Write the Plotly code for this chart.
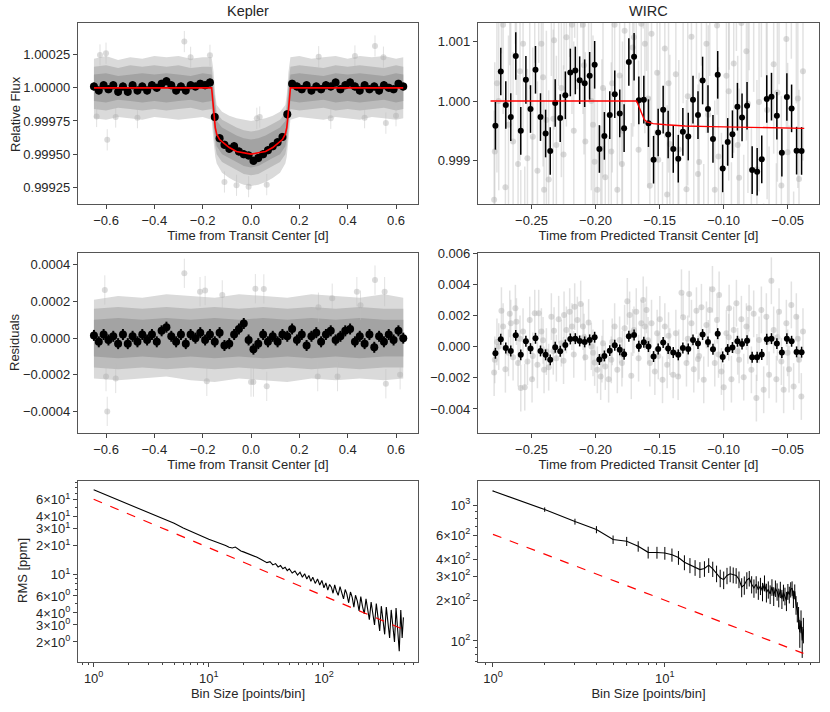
import numpy as np
import plotly.graph_objects as go
from plotly.subplots import make_subplots

#%% Kepler light curve (binned points, model, grey cloud envelope)
kep_t = [-0.65, -0.63, -0.61, -0.59, -0.57, -0.55, -0.53, -0.51, -0.49, -0.47, -0.45, -0.43, -0.41,
         -0.39, -0.37, -0.35, -0.33, -0.31, -0.29, -0.27, -0.25, -0.23, -0.21, -0.19, -0.17,
         -0.15, -0.13, -0.11, -0.09, -0.07, -0.05, -0.03, -0.01, 0.01, 0.03, 0.05, 0.07, 0.09,
         0.11, 0.13, 0.15, 0.17, 0.19, 0.21, 0.23, 0.25, 0.27, 0.29, 0.31, 0.33, 0.35, 0.37,
         0.39, 0.41, 0.43, 0.45, 0.47, 0.49, 0.51, 0.53, 0.55, 0.57, 0.59, 0.61, 0.63]
kep_flux = [1.00001, 0.99998, 1.00002, 0.99999, 1.00002, 0.99997, 1.00001, 0.99997, 1.00002, 0.99998,
            1.00001, 0.99998, 1.00002, 1.00000, 1.00003, 1.00005, 1.00002, 0.99998, 1.00001, 0.99998,
            1.00002, 1.00001, 1.00003, 1.00002, 1.00004,
            0.99978, 0.99962, 0.99957, 0.99954, 0.99956, 0.99952, 0.99950, 0.99949, 0.99945, 0.99947,
            0.99950, 0.99953, 0.99956, 0.99959, 0.99963, 0.99980,
            1.00003, 1.00001, 0.99999, 1.00002, 0.99998, 1.00001, 0.99999, 1.00002, 1.00001, 1.00004,
            0.99999, 1.00002, 1.00004, 1.00001, 0.99998, 1.00002, 0.99999, 1.00001, 0.99998, 1.00002,
            1.00000, 0.99999, 1.00003, 1.00001]
kep_resid = [0.000015, -0.00002, 0.00002, -0.00001, 0.00001, -0.00003, 0.00002, -0.00003, 0.00001, -0.00002,
             0.00002, -0.00001, 0.00002, -0.00002, 0.00004, 0.00006, 0.00001, -0.00002, 0.00002, -0.00003,
             0.00002, 0.0, 0.00003, -0.00001, 0.00002,
             -0.00002, 0.00003, -0.00004, -0.00003, 0.00002, 0.00005, 0.00008, -0.00001, -0.00006, -0.00003,
             0.00002, -0.00002, 0.00001, -0.00002, 0.00002, 0.00001,
             0.00005, -0.00001, 0.00002, -0.00004, 0.00001, 0.00003, -0.00002, 0.00002, 0.00004, -0.00001,
             0.00001, 0.00004, 0.00005, -0.00002, 0.00001, -0.00003, 0.00002, -0.00005, 0.00001, -0.00002,
             0.00002, -0.00001, 0.00004, 0.0]

kep_model_t = [-0.65, -0.163, -0.158, -0.153, -0.148, -0.142, -0.13, -0.11, -0.09, -0.06, -0.03, 0.0,
               0.03, 0.06, 0.09, 0.11, 0.13, 0.142, 0.148, 0.153, 0.158, 0.163, 0.63]
kep_model_f = [1.0, 1.0, 0.99990, 0.99979, 0.99970, 0.99965, 0.99961, 0.99958, 0.99955, 0.99952, 0.99951,
               0.99950, 0.99951, 0.99952, 0.99955, 0.99958, 0.99961, 0.99965, 0.99970, 0.99979, 0.99990,
               1.0, 1.0]

# envelope of the unbinned cloud: outer fringe, middle and dense core
kep_band_t = [-0.65, -0.60, -0.55, -0.50, -0.45, -0.40, -0.35, -0.30, -0.25, -0.20,
              -0.163, -0.155, -0.148, -0.142, -0.12, -0.09, -0.06, -0.03, 0.0, 0.03, 0.06, 0.09, 0.12,
              0.142, 0.148, 0.155, 0.163,
              0.20, 0.25, 0.30, 0.35, 0.40, 0.45, 0.50, 0.55, 0.60, 0.63]
kep_outer_hi = [1.00022, 1.00024, 1.00021, 1.00023, 1.00022, 1.00024, 1.00023, 1.00024, 1.00022, 1.00023,
                1.00023, 1.00012, 0.99995, 0.99987, 0.99982, 0.99979, 0.99977, 0.99976, 0.99975, 0.99976,
                0.99977, 0.99979, 0.99982, 0.99987, 0.99995, 1.00012, 1.00023,
                1.00024, 1.00022, 1.00023, 1.00024, 1.00022, 1.00024, 1.00023, 1.00024, 1.00022, 1.00023]
kep_outer_lo = [0.99977, 0.99976, 0.99978, 0.99977, 0.99976, 0.99978, 0.99977, 0.99976, 0.99977, 0.99978,
                0.99976, 0.99960, 0.99948, 0.99943, 0.99936, 0.99932, 0.99929, 0.99927, 0.99926, 0.99927,
                0.99929, 0.99932, 0.99936, 0.99943, 0.99948, 0.99960, 0.99976,
                0.99978, 0.99977, 0.99976, 0.99978, 0.99977, 0.99976, 0.99978, 0.99977, 0.99976, 0.99977]
kep_mid_hi = [1.00016, 1.00017, 1.00015, 1.00017, 1.00016, 1.00017, 1.00016, 1.00017, 1.00015, 1.00016,
              1.00016, 1.00004, 0.99989, 0.99981, 0.99976, 0.99973, 0.99970, 0.99968, 0.99967, 0.99968,
              0.99970, 0.99973, 0.99976, 0.99981, 0.99989, 1.00004, 1.00016,
              1.00017, 1.00016, 1.00015, 1.00017, 1.00016, 1.00017, 1.00016, 1.00015, 1.00017, 1.00016]
kep_mid_lo = [0.99984, 0.99983, 0.99985, 0.99984, 0.99983, 0.99984, 0.99983, 0.99984, 0.99985, 0.99983,
              0.99984, 0.99968, 0.99956, 0.99950, 0.99944, 0.99941, 0.99938, 0.99935, 0.99934, 0.99935,
              0.99938, 0.99941, 0.99944, 0.99950, 0.99956, 0.99968, 0.99984,
              0.99983, 0.99984, 0.99985, 0.99983, 0.99984, 0.99983, 0.99984, 0.99985, 0.99983, 0.99984]
kep_inner_hi = [1.00010, 1.00011, 1.00009, 1.00010, 1.00011, 1.00010, 1.00011, 1.00010, 1.00009, 1.00011,
                1.00010, 0.99998, 0.99983, 0.99975, 0.99970, 0.99967, 0.99964, 0.99962, 0.99961, 0.99962,
                0.99964, 0.99967, 0.99970, 0.99975, 0.99983, 0.99998, 1.00010,
                1.00011, 1.00010, 1.00009, 1.00011, 1.00010, 1.00011, 1.00010, 1.00009, 1.00011, 1.00010]
kep_inner_lo = [0.99990, 0.99989, 0.99991, 0.99990, 0.99989, 0.99990, 0.99989, 0.99990, 0.99991, 0.99989,
                0.99990, 0.99974, 0.99962, 0.99956, 0.99950, 0.99947, 0.99944, 0.99941, 0.99940, 0.99941,
                0.99944, 0.99947, 0.99950, 0.99956, 0.99962, 0.99974, 0.99990,
                0.99989, 0.99990, 0.99991, 0.99989, 0.99990, 0.99989, 0.99990, 0.99991, 0.99989, 0.99990]
kep_out_t = [-0.639, -0.625, -0.600, -0.595, -0.560, -0.470, -0.276, -0.250, -0.170, -0.110, -0.060,
             0.024, 0.036, 0.065, -0.010, 0.280, 0.330, 0.430, 0.470, 0.513, 0.548, 0.558, 0.600]
kep_out_f = [0.999784, 1.000248, 1.000261, 0.999608, 0.999780, 0.999775, 1.000349, 1.000230, 1.000245,
             0.999290, 0.999265, 0.999770, 0.999780, 0.999270, 0.999255, 1.000235, 0.999770, 1.000240,
             0.999775, 1.000316, 1.000231, 0.999734, 0.999790]

kep_rband_t = [-0.65, -0.55, -0.45, -0.35, -0.25, -0.15, -0.05, 0.05, 0.15, 0.25, 0.35, 0.45, 0.55, 0.63]
kep_router_hi = [0.00021, 0.00023, 0.00022, 0.00024, 0.00023, 0.00022, 0.00024, 0.00023, 0.00022, 0.00024,
                 0.00023, 0.00022, 0.00024, 0.00022]
kep_router_lo = [-0.00022, -0.00023, -0.00022, -0.00021, -0.00023, -0.00024, -0.00022, -0.00023, -0.00024,
                 -0.00022, -0.00023, -0.00022, -0.00023, -0.00022]
kep_rmid_hi = [0.00016, 0.00017, 0.00016, 0.00017, 0.00016, 0.00017, 0.00016, 0.00017, 0.00016, 0.00017,
               0.00016, 0.00017, 0.00016, 0.00016]
kep_rmid_lo = [-0.00016, -0.00017, -0.00016, -0.00017, -0.00016, -0.00017, -0.00016, -0.00017, -0.00016,
               -0.00017, -0.00016, -0.00017, -0.00016, -0.00016]
kep_rinner_hi = [0.00010, 0.00011, 0.00010, 0.00011, 0.00010, 0.00011, 0.00010, 0.00011, 0.00010, 0.00011,
                 0.00010, 0.00011, 0.00010, 0.00010]
kep_rinner_lo = [-0.00010, -0.00011, -0.00010, -0.00011, -0.00010, -0.00011, -0.00010, -0.00011, -0.00010,
                 -0.00011, -0.00010, -0.00011, -0.00010, -0.00010]
kep_rout_t = [-0.605, -0.600, -0.595, -0.560, -0.276, -0.211, -0.190, -0.183, -0.119, 0.000, 0.010, 0.018,
              0.053, 0.065, 0.276, 0.279, 0.336, 0.358, 0.438, 0.453, 0.513, 0.553, 0.558, 0.617]
kep_rout_r = [0.000263, -0.00021, -0.0004, -0.00022, 0.000354, 0.000254, 0.00026, -0.000236, 0.000236,
              -0.00024, -0.00024, 0.00027, 0.000269, -0.000263, -0.00021, 0.000169, 0.000218, -0.00021,
              0.000254, 0.00018, 0.000317, 0.000254, -0.000249, -0.0002]

#%% WIRC light curve
wirc_t = [-0.2782, -0.2740, -0.2701, -0.2662, -0.2623, -0.2584, -0.2544, -0.2508, -0.2469, -0.2430,
          -0.2390, -0.2354, -0.2315, -0.2276, -0.2236, -0.2197, -0.2158, -0.2124, -0.2085, -0.2046,
          -0.2007, -0.1970, -0.1931, -0.1889, -0.1850, -0.1811, -0.1777, -0.1740, -0.1699, -0.1662,
          -0.1623, -0.1587, -0.1547, -0.1511, -0.1472, -0.1433, -0.1393, -0.1354, -0.1318, -0.1276,
          -0.1239, -0.1200, -0.1164, -0.1122, -0.1083, -0.1046, -0.1007, -0.0968, -0.0931, -0.0892,
          -0.0856, -0.0817, -0.0777, -0.0738, -0.0702, -0.0663, -0.0626, -0.0584, -0.0545, -0.0506,
          -0.0469, -0.0430, -0.0391]
wirc_flux = [0.999583, 1.000496, 0.999932, 0.999730, 1.000755, 0.999499, 1.000355, 0.999865, 1.000524,
             0.999730, 0.999454, 0.999161, 0.999966, 0.999713, 1.000096, 1.000479, 1.000513, 1.000349,
             1.000299, 1.000423, 1.000608, 0.999194, 0.999414, 0.999763, 1.000113, 0.999792, 0.999544,
             1.000654, 1.000744, 1.000011, 1.000023, 0.999628, 0.999014, 0.999470, 0.999854, 0.999437,
             0.999194, 0.999031, 0.999482, 0.999403, 1.000023, 0.999763, 1.000344, 0.999865, 0.999363,
             1.000439, 0.998868, 0.999313, 0.999442, 0.999904, 0.999724, 0.999921, 0.998839, 0.998811,
             0.999020, 1.000034, 1.000073, 0.999752, 0.999132, 1.000068, 0.999876, 0.999166, 0.999161]
wirc_resid = [-0.00043, 0.00047, -0.00009, -0.00028, 0.00072, -0.00053, 0.00034, -0.00013, 0.00053,
              -0.00028, -0.00053, -0.00085, -0.00004, -0.00030, 0.00010, 0.00049, 0.00051, 0.00036,
              0.00030, 0.00043, 0.00060, -0.00083, -0.00060, -0.00026, 0.00009, -0.00021, -0.00049,
              0.00066, 0.00074, 0.00002, 0.00028, 0.00000, -0.00064, -0.00015, 0.00026, -0.00013,
              -0.00038, -0.00053, -0.00009, -0.00015, 0.00043, 0.00019, 0.00077, 0.00030, -0.00017,
              0.00083, -0.00066, -0.00019, -0.00006, 0.00034, 0.00017, 0.00038, -0.00068, -0.00068,
              -0.00051, 0.00047, 0.00051, 0.00019, -0.00038, 0.00051, 0.00034, -0.00034, -0.00036]

wirc_model_t = [-0.282, -0.168, -0.166, -0.164, -0.162, -0.160, -0.155, -0.145, -0.13, -0.11, -0.09,
                -0.07, -0.05, -0.037]
wirc_model_f = [1.0, 1.0, 0.99990, 0.99978, 0.99969, 0.99965, 0.99962, 0.99960, 0.99958, 0.99957,
                0.99956, 0.99955, 0.99954, 0.99954]

# unbinned WIRC points (residuals)
wirc_grey_t = [-0.2792, -0.2787, -0.2770, -0.2756, -0.2735, -0.2722, -0.2704, -0.2680, -0.2670, -0.2662,
               -0.2644, -0.2626, -0.2618, -0.2605, -0.2590, -0.2584, -0.2566, -0.2553, -0.2532, -0.2514,
               -0.2496, -0.2490, -0.2475, -0.2454, -0.2444, -0.2423, -0.2410, -0.2402, -0.2384, -0.2366,
               -0.2345, -0.2330, -0.2324, -0.2306, -0.2288, -0.2267, -0.2250, -0.2246, -0.2228, -0.2202,
               -0.2184, -0.2170, -0.2163, -0.2142, -0.2116, -0.2098, -0.2090, -0.2080, -0.2054, -0.2033,
               -0.2020, -0.2007, -0.1986, -0.1960, -0.1950, -0.1942, -0.1924, -0.1898, -0.1877, -0.1870,
               -0.1851, -0.1830, -0.1812, -0.1794, -0.1790, -0.1773, -0.1752, -0.1734, -0.1721, -0.1710,
               -0.1700, -0.1682, -0.1664, -0.1643, -0.1628, -0.1615, -0.1602, -0.1590, -0.1576, -0.1563,
               -0.1537, -0.1519, -0.1510, -0.1498, -0.1477, -0.1459, -0.1441, -0.1430, -0.1420, -0.1394,
               -0.1373, -0.1355, -0.1350, -0.1329, -0.1316, -0.1290, -0.1280, -0.1269, -0.1251, -0.1233,
               -0.1212, -0.1200, -0.1191, -0.1173, -0.1155, -0.1134, -0.1120, -0.1108, -0.1087, -0.1069,
               -0.1051, -0.1040, -0.1035, -0.1017, -0.0999, -0.0978, -0.0960, -0.0957, -0.0939, -0.0921,
               -0.0900, -0.0890, -0.0879, -0.0861, -0.0843, -0.0822, -0.0810, -0.0801, -0.0783, -0.0765,
               -0.0744, -0.0740, -0.0723, -0.0705, -0.0687, -0.0666, -0.0660, -0.0645, -0.0627, -0.0609,
               -0.0588, -0.0580, -0.0567, -0.0549, -0.0531, -0.0510, -0.0500, -0.0489, -0.0471, -0.0453,
               -0.0432, -0.0420, -0.0411, -0.0393, -0.0380]
wirc_grey_resid = [-0.00166, -0.00085, 0.0003, 0.0, 0.0023, 0.00128, -0.00145, -0.0004, 0.0021, 0.0015,
                   -0.00068, 0.00246, 0.0016, -0.00106, 0.0005, -0.00266, 0.00096, -0.0026, -0.00096, 0.0017,
                   -0.00209, -0.0006, 0.00214, -0.00117, 0.00214, 0.00096, 0.0004, -0.00149, -0.00032, -0.00132,
                   0.00192, -0.0003, 0.00102, -0.00074, 0.00175, 0.00022, -0.0009, 0.00203, 0.00107, 0.00224,
                   0.00128, -0.0005, 0.00256, 0.0017, 0.00273, 0.00128, 0.0006, -0.00068, 0.00154, 0.0,
                   -0.0004, -0.00102, -0.00149, -0.00192, -0.0008, 0.00022, -0.00128, -0.00209, -0.00085, 0.0003,
                   0.00128, -0.00149, 0.00043, -0.00106, -0.0005, 0.00118, 0.0029, 0.00203, -0.00187, 0.0009,
                   0.00107, 0.00224, -0.00074, 0.0015, 0.00299, 0.00128, 0.00235, 0.0004, -0.00106, 0.0015,
                   -0.0016, 0.00086, -0.0006, 0.00175, -0.00213, 0.00128, -0.00117, 0.0007, -0.00032, -0.00181,
                   0.00086, -0.00192, -0.0004, 0.00345, 0.00188, -0.00106, 0.0005, 0.00337, 0.0015, -0.00145,
                   0.0023, -0.0008, -0.0006, 0.00252, -0.00213, 0.00139, 0.0002, 0.00235, 0.00367, -0.00106,
                   0.0017, -0.0005, 0.00331, -0.0016, -0.0026, 0.00086, 0.0006, 0.00246, -0.00209, 0.00107,
                   0.00278, -0.0003, -0.00085, 0.00175, -0.00196, 0.00128, 0.0004, 0.00246, -0.00149, 0.0021,
                   -0.0033, -0.0007, 0.00043, 0.00235, -0.00277, 0.00192, 0.0003, -0.00181, 0.00422, 0.00107,
                   -0.00209, 0.0006, 0.00224, -0.00096, -0.00277, 0.0015, -0.0004, -0.00145, 0.00267, -0.00256,
                   0.00192, 0.0005, -0.00085, -0.0032, 0.00096]
wirc_grey_flux = np.array(wirc_grey_resid) + np.interp(wirc_grey_t, wirc_model_t, wirc_model_f)

#%% RMS vs bin size
kep_bins = [1, 2, 3, 4, 5, 6, 7, 8, 9, 10, 11, 12, 13, 14, 15, 16, 17, 18, 19, 20, 22, 24, 26, 28, 30,
            32, 34, 36, 38, 40, 42, 44, 46, 48, 50, 53, 56, 59, 62, 65, 68, 71, 74, 77, 80, 84, 88, 92, 96,
            100, 104, 108, 112, 116, 120, 124, 128, 133, 138, 143, 148, 153, 158, 164, 170, 176, 182, 188,
            195, 202, 209, 216, 224, 232, 240, 248, 257, 266, 275, 285, 295, 305, 315, 326, 337, 348, 360,
            372, 384, 397, 410, 423, 437, 451, 465, 478, 490]
kep_rms = [76, 54, 44, 38, 34, 30.5, 28, 26, 24.3, 23.2, 22.3, 21.5, 20.6, 20.0, 19.2, 18.9, 19.3, 18.2,
           17.6, 17.2, 16.5, 15.6, 15.2, 14.5, 14.0, 13.3, 13.6, 12.6, 13.0, 12.0, 12.4, 11.5, 11.9, 11.0,
           11.5, 10.4, 10.9, 9.9, 10.6, 9.4, 10.2, 9.0, 9.8, 8.5, 9.4, 8.1, 9.0, 7.8, 8.7,
           7.3, 8.2, 6.9, 7.9, 7.4, 6.4, 7.8, 6.8, 6.1, 7.5, 6.6, 5.6, 7.0, 6.3, 5.1, 6.6, 5.8, 4.6, 6.1,
           5.3, 4.2, 5.9, 4.7, 3.9, 5.6, 4.4, 3.4, 5.2, 3.9, 3.0, 5.0, 3.6, 2.6, 4.7, 3.3, 2.4, 4.6, 3.0,
           2.2, 4.3, 2.7, 2.0, 4.5, 2.5, 1.6, 4.3, 2.2, 3.6]
kep_white_bins = [1, 490]
kep_white_rms = [60.4, 2.7]

wirc_bins = list(range(1, 65))
wirc_rms = [1275, 930, 758, 662, 559, 543, 499, 450, 449, 445, 432, 412, 380, 362, 348, 336, 342, 362,
            340, 315, 292, 283, 304, 313, 307, 304, 285, 250, 259, 281, 290, 262, 246, 262, 238, 255, 232,
            268, 228, 240, 222, 250, 215, 245, 232, 210, 240, 205, 228, 215, 198, 232, 220, 240, 245, 205,
            232, 185, 165, 150, 116, 141, 101, 122]
wirc_rms_err = [12, 35, 38, 40, 40, 42, 44, 45, 45, 48, 48, 48, 48, 46, 46, 45, 45, 45, 44, 44, 43, 42,
                42, 42, 41, 40, 40, 40, 40, 40, 38, 38, 38, 38, 37, 37, 36, 36, 36, 35, 35, 35, 34, 34, 34,
                33, 33, 33, 32, 32, 32, 31, 31, 31, 30, 30, 29, 29, 28, 28, 27, 27, 26, 26]
wirc_white_bins = [1, 64]
wirc_white_rms = [611, 81]

#%% figure
fig = make_subplots(rows=3, cols=2)

grey_pt = 'rgba(175,175,175,0.45)'
grey_bar = 'rgba(190,190,190,0.45)'
band_colors = ['rgb(218,218,218)', 'rgb(188,188,188)', 'rgb(163,163,163)']


def band(t, hi, lo, color, row, col):
    fig.add_trace(go.Scatter(x=list(t) + list(t)[::-1], y=list(hi) + list(lo)[::-1], fill='toself',
                             fillcolor=color, line_width=0, mode='lines', hoverinfo='skip'),
                  row=row, col=col)


# Kepler flux
band(kep_band_t, kep_outer_hi, kep_outer_lo, band_colors[0], 1, 1)
band(kep_band_t, kep_mid_hi, kep_mid_lo, band_colors[1], 1, 1)
band(kep_band_t, kep_inner_hi, kep_inner_lo, band_colors[2], 1, 1)
fig.add_trace(go.Scatter(x=kep_out_t, y=kep_out_f, mode='markers',
                         marker=dict(color=grey_pt, size=6),
                         error_y=dict(type='constant', value=0.00008, color=grey_bar, thickness=1, width=0)),
              row=1, col=1)
fig.add_trace(go.Scatter(x=kep_t, y=kep_flux, mode='markers', marker=dict(color='black', size=8),
                         error_y=dict(type='constant', value=0.00003, color='black', thickness=2, width=0)),
              row=1, col=1)
fig.add_trace(go.Scatter(x=kep_model_t, y=kep_model_f, mode='lines', line=dict(color='red', width=1.6)),
              row=1, col=1)

# WIRC flux
fig.add_trace(go.Scatter(x=wirc_grey_t, y=wirc_grey_flux, mode='markers',
                         marker=dict(color=grey_pt, size=6),
                         error_y=dict(type='constant', value=0.0015, color=grey_bar, thickness=1.5, width=0)),
              row=1, col=2)
fig.add_trace(go.Scatter(x=wirc_t, y=wirc_flux, mode='markers', marker=dict(color='black', size=6),
                         error_y=dict(type='constant', value=0.0004, color='black', thickness=1.5, width=0)),
              row=1, col=2)
fig.add_trace(go.Scatter(x=wirc_model_t, y=wirc_model_f, mode='lines', line=dict(color='red', width=1.4)),
              row=1, col=2)

# Kepler residuals
band(kep_rband_t, kep_router_hi, kep_router_lo, band_colors[0], 2, 1)
band(kep_rband_t, kep_rmid_hi, kep_rmid_lo, band_colors[1], 2, 1)
band(kep_rband_t, kep_rinner_hi, kep_rinner_lo, band_colors[2], 2, 1)
fig.add_trace(go.Scatter(x=kep_rout_t, y=kep_rout_r, mode='markers',
                         marker=dict(color=grey_pt, size=6),
                         error_y=dict(type='constant', value=0.00008, color=grey_bar, thickness=1, width=0)),
              row=2, col=1)
fig.add_trace(go.Scatter(x=kep_t, y=kep_resid, mode='markers', marker=dict(color='black', size=8),
                         error_y=dict(type='constant', value=0.00003, color='black', thickness=2, width=0)),
              row=2, col=1)

# WIRC residuals
fig.add_trace(go.Scatter(x=wirc_grey_t, y=wirc_grey_resid, mode='markers',
                         marker=dict(color=grey_pt, size=6),
                         error_y=dict(type='constant', value=0.0015, color=grey_bar, thickness=1.5, width=0)),
              row=2, col=2)
fig.add_trace(go.Scatter(x=wirc_t, y=wirc_resid, mode='markers', marker=dict(color='black', size=6),
                         error_y=dict(type='constant', value=0.00035, color='black', thickness=1.5, width=0)),
              row=2, col=2)

# RMS panels
fig.add_trace(go.Scatter(x=kep_bins, y=kep_rms, mode='lines', line=dict(color='black', width=1.1)),
              row=3, col=1)
fig.add_trace(go.Scatter(x=kep_white_bins, y=kep_white_rms, mode='lines',
                         line=dict(color='red', width=1.2, dash='dash')), row=3, col=1)
fig.add_trace(go.Scatter(x=wirc_bins, y=wirc_rms, mode='lines', line=dict(color='black', width=1.1),
                         error_y=dict(type='data', array=wirc_rms_err, color='black', thickness=1, width=0)),
              row=3, col=2)
fig.add_trace(go.Scatter(x=wirc_white_bins, y=wirc_white_rms, mode='lines',
                         line=dict(color='red', width=1.2, dash='dash')), row=3, col=2)

W, H = 830, 712
cols = [(78, 418), (478, 819)]
rows = [(23, 204), (253, 433), (481, 662)]

axis_style = dict(showline=True, linecolor='#555555', linewidth=1.2, mirror=True, ticks='outside',
                  ticklen=4, tickwidth=1, tickcolor='#444444', showgrid=False, zeroline=False,
                  automargin=False, title_font_size=13, tickfont_size=13, title_standoff=3)

n = 0
for r in range(3):
    for c in range(2):
        n += 1
        xs = 'xaxis' if n == 1 else 'xaxis%d' % n
        ys = 'yaxis' if n == 1 else 'yaxis%d' % n
        fig.layout[xs].update(domain=[cols[c][0] / W, cols[c][1] / W], **axis_style)
        fig.layout[ys].update(domain=[1 - rows[r][1] / H, 1 - rows[r][0] / H], **axis_style)

minor_log = dict(ticks='outside', ticklen=2, tickcolor='#444444')

fig.update_layout(
    xaxis=dict(range=[-0.716, 0.691], tickvals=[-0.6, -0.4, -0.2, 0, 0.2, 0.4, 0.6], tickformat='.1f',
               title_text='Time from Transit Center [d]'),
    yaxis=dict(range=[0.999124, 1.000489], tickvals=[0.99925, 0.9995, 0.99975, 1.0, 1.00025],
               tickformat='.5f'),
    xaxis2=dict(range=[-0.2918, -0.0255], tickvals=[-0.25, -0.2, -0.15, -0.1, -0.05], tickformat='.2f',
                title_text='Time from Predicted Transit Center [d]'),
    yaxis2=dict(range=[0.99827, 1.00131], tickvals=[0.999, 1.0, 1.001], tickformat='.3f'),
    xaxis3=dict(range=[-0.716, 0.691], tickvals=[-0.6, -0.4, -0.2, 0, 0.2, 0.4, 0.6], tickformat='.1f',
                title_text='Time from Transit Center [d]'),
    yaxis3=dict(range=[-0.000518, 0.000465], tickvals=[-0.0004, -0.0002, 0, 0.0002, 0.0004],
                tickformat='.4f'),
    xaxis4=dict(range=[-0.2918, -0.0255], tickvals=[-0.25, -0.2, -0.15, -0.1, -0.05], tickformat='.2f',
                title_text='Time from Predicted Transit Center [d]'),
    yaxis4=dict(range=[-0.00554, 0.006], tickvals=[-0.004, -0.002, 0, 0.002, 0.004, 0.006],
                tickformat='.3f'),
    xaxis5=dict(type='log', range=[-0.136, 2.817], tickvals=[1, 10, 100],
                ticktext=['10<sup>0</sup>', '10<sup>1</sup>', '10<sup>2</sup>'],
                minor=dict(tickvals=[0.8, 0.9, 2, 3, 4, 5, 6, 7, 8, 9, 20, 30, 40, 50, 60, 70, 80, 90,
                                     200, 300, 400, 500, 600], **minor_log),
                title_text='Bin Size [points/bin]'),
    yaxis5=dict(type='log', range=[0.093, 1.971], tickvals=[2, 3, 4, 6, 10, 20, 30, 40, 60],
                ticktext=['2×10<sup>0</sup>', '3×10<sup>0</sup>', '4×10<sup>0</sup>', '6×10<sup>0</sup>',
                          '10<sup>1</sup>', '2×10<sup>1</sup>', '3×10<sup>1</sup>', '4×10<sup>1</sup>',
                          '6×10<sup>1</sup>'],
                minor=dict(tickvals=[5, 7, 8, 9, 50, 70, 80, 90], **minor_log)),
    xaxis6=dict(type='log', range=[-0.087, 1.897], tickvals=[1, 10],
                ticktext=['10<sup>0</sup>', '10<sup>1</sup>'],
                minor=dict(tickvals=[0.9, 2, 3, 4, 5, 6, 7, 8, 9, 20, 30, 40, 50, 60, 70], **minor_log),
                title_text='Bin Size [points/bin]'),
    yaxis6=dict(type='log', range=[1.845, 3.179], tickvals=[100, 200, 300, 400, 600, 1000],
                ticktext=['10<sup>2</sup>', '2×10<sup>2</sup>', '3×10<sup>2</sup>', '4×10<sup>2</sup>',
                          '6×10<sup>2</sup>', '10<sup>3</sup>'],
                minor=dict(tickvals=[70, 80, 90, 500, 700, 800, 900], **minor_log)),
)

# panel titles and y-axis titles as paper annotations
notes = [
    dict(text='Kepler', x=(cols[0][0] + cols[0][1]) / 2 / W, y=1 - 11 / H, font_size=14.5, textangle=0),
    dict(text='WIRC', x=(cols[1][0] + cols[1][1]) / 2 / W, y=1 - 11 / H, font_size=14.5, textangle=0),
    dict(text='Relative Flux', x=15 / W, y=1 - 114 / H, font_size=13, textangle=-90),
    dict(text='Residuals', x=14 / W, y=1 - 342 / H, font_size=13, textangle=-90),
    dict(text='RMS [ppm]', x=22 / W, y=1 - 571 / H, font_size=13, textangle=-90),
]
for a in notes:
    a.update(xref='paper', yref='paper', showarrow=False, xanchor='center', yanchor='middle')

fig.update_layout(
    width=W, height=H,
    margin=dict(l=0, r=0, t=0, b=0),
    paper_bgcolor='white', plot_bgcolor='white',
    font=dict(family='Liberation Sans, Arial, sans-serif', size=13, color='#262626'),
    showlegend=False,
    annotations=notes,
)

fig.write_html('out.html', config={'displayModeBar': False},
               post_script="document.body.style.margin='0px';")
